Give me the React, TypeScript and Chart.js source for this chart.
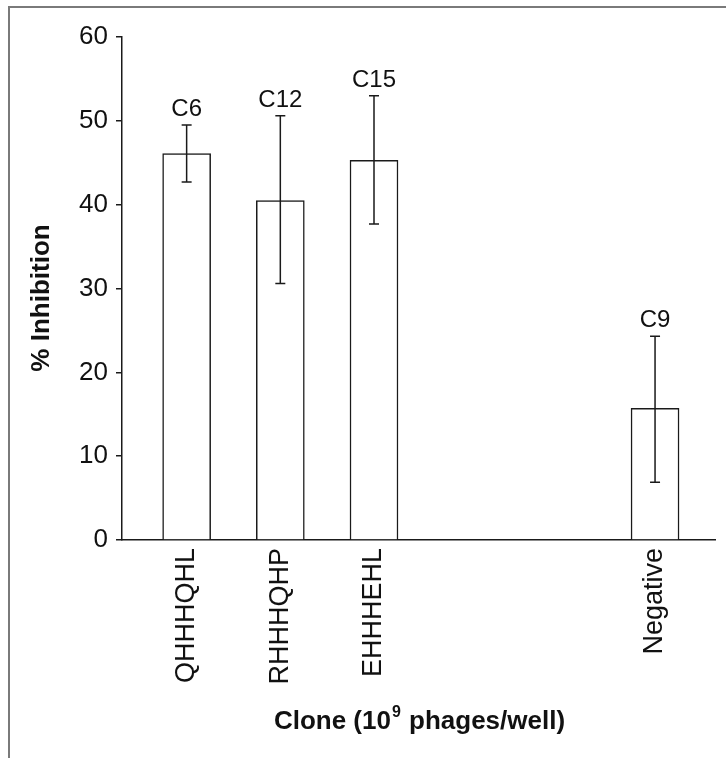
import React, { useEffect, useRef } from "react";
import { Chart, registerables } from "chart.js";

Chart.register(...registerables);

// ---- data ----
const categories = ["QHHHQHL", "RHHHQHP", "EHHHEHL", "", "", "Negative"];
const cloneNames = ["C6", "C12", "C15", "", "", "C9"];
const inhibition = [46.1, 40.5, 45.3, null, null, 15.7];
const errLow = [42.7, 30.6, 37.7, null, null, 6.9];
const errHigh = [49.5, 50.6, 53.0, null, null, 24.3];
const yTicks = [0, 10, 20, 30, 40, 50, 60];
const xRange = [0.31, 6.64];
const yTitle = "% Inhibition";
const xTitleParts = ["Clone (10", "9", " phages/well)"];

const FONT = '"Liberation Sans", Arial, Helvetica, sans-serif';
const INK = "#1a1a1a";

export default function App() {
  const ref = useRef<HTMLCanvasElement>(null);

  useEffect(() => {
    document.body.style.margin = "0";
    const canvas = ref.current;
    if (!canvas) return;

    const points = categories
      .map((_, i) => ({ x: i + 1, y: inhibition[i] }))
      .filter((p) => p.y != null);

    const overlay = {
      id: "overlay",
      beforeDraw(chart: any) {
        const c = chart.ctx;
        c.save();
        c.fillStyle = "#ffffff";
        c.fillRect(0, 0, chart.width, chart.height);
        c.strokeStyle = "#7a7a7a";
        c.lineWidth = 2;
        c.beginPath();
        c.moveTo(9, chart.height);
        c.lineTo(9, 7);
        c.lineTo(chart.width, 7);
        c.stroke();
        c.restore();
      },
      afterDatasetsDraw(chart: any) {
        const c = chart.ctx;
        const x = chart.scales.x;
        const y = chart.scales.y;
        c.save();
        c.strokeStyle = INK;
        c.lineWidth = 1.5;
        c.fillStyle = "#111";
        c.font = `24px ${FONT}`;
        c.textAlign = "center";
        c.textBaseline = "alphabetic";
        for (let i = 0; i < categories.length; i++) {
          if (inhibition[i] == null) continue;
          const px = x.getPixelForValue(i + 1);
          const top = y.getPixelForValue(errHigh[i] as number);
          const bot = y.getPixelForValue(errLow[i] as number);
          c.beginPath();
          c.moveTo(px, top);
          c.lineTo(px, bot);
          c.moveTo(px - 5, top);
          c.lineTo(px + 5, top);
          c.moveTo(px - 5, bot);
          c.lineTo(px + 5, bot);
          c.stroke();
          c.fillText(cloneNames[i], px, top - 9);
        }
        c.restore();
      },
      afterDraw(chart: any) {
        const c = chart.ctx;
        const area = chart.chartArea;
        c.save();
        c.fillStyle = "#111";
        // y title
        c.font = `bold 26px ${FONT}`;
        c.textAlign = "center";
        c.textBaseline = "middle";
        c.translate(42, 298);
        c.rotate(-Math.PI / 2);
        c.fillText(yTitle, 0, 0);
        c.restore();

        // x title with superscript
        c.save();
        c.fillStyle = "#111";
        c.textBaseline = "alphabetic";
        c.textAlign = "left";
        const big = `bold 26px ${FONT}`;
        const small = `bold 16px ${FONT}`;
        c.font = big;
        const w1 = c.measureText(xTitleParts[0]).width;
        const w3 = c.measureText(xTitleParts[2]).width;
        c.font = small;
        const w2 = c.measureText(xTitleParts[1]).width;
        const total = w1 + w2 + w3;
        const cx = (area.left + area.right) / 2;
        let sx = cx - total / 2;
        const base = 729;
        c.font = big;
        c.fillText(xTitleParts[0], sx, base);
        sx += w1;
        c.font = small;
        c.fillText(xTitleParts[1], sx + 1, base - 12);
        sx += w2 + 2;
        c.font = big;
        c.fillText(xTitleParts[2], sx, base);
        c.restore();
      },
    };

    const chart = new Chart(canvas, {
      type: "bar",
      data: {
        datasets: [
          {
            data: points as any,
            backgroundColor: "#ffffff",
            borderColor: INK,
            borderWidth: 1.5,
            barThickness: 48,
          },
        ],
      },
      options: {
        animation: false,
        responsive: false,
        devicePixelRatio: 1,
        layout: { padding: { top: 37, right: 11, bottom: 0, left: 0 } },
        plugins: {
          legend: { display: false },
          tooltip: { enabled: false },
          title: { display: false },
        },
        scales: {
          x: {
            type: "linear",
            min: xRange[0],
            max: xRange[1],
            offset: false,
            afterBuildTicks: (s: any) => {
              s.ticks = categories.map((_, i) => ({ value: i + 1 }));
            },
            grid: { display: false, drawTicks: false },
            border: { display: true, color: INK, width: 1.5 },
            ticks: {
              autoSkip: false,
              minRotation: 90,
              maxRotation: 90,
              padding: 8,
              color: "#111",
              font: { family: FONT, size: 27 },
              callback: (v: any) => categories[Math.round(v) - 1] ?? "",
            },
            afterFit: (s: any) => {
              s.height = 218;
            },
          },
          y: {
            min: yTicks[0],
            max: yTicks[yTicks.length - 1],
            afterBuildTicks: (s: any) => {
              s.ticks = yTicks.map((v) => ({ value: v }));
            },
            ticks: {
              padding: 8,
              color: "#111",
              font: { family: FONT, size: 26 },
            },
            grid: {
              drawOnChartArea: false,
              drawTicks: true,
              tickLength: 6,
              color: INK,
              lineWidth: 1.5,
            },
            border: { display: true, color: INK, width: 1.5 },
            afterFit: (s: any) => {
              s.width = 122;
            },
          },
        },
      } as any,
      plugins: [overlay],
    });

    return () => chart.destroy();
  }, []);

  return <canvas ref={ref} width={726} height={758} style={{ display: "block" }} />;
}
